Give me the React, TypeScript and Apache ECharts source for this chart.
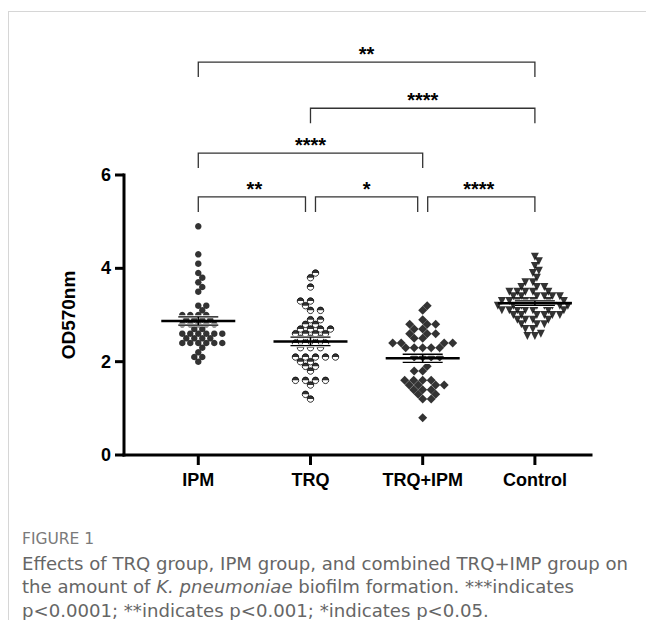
import React, { useEffect, useRef } from 'react';
import * as echarts from 'echarts';

const categories = ['IPM', 'TRQ', 'TRQ+IPM', 'Control'];

const ipmValues = [
  4.9, 4.3, 4.1, 3.9, 3.8, 3.7, 3.6, 3.5, 3.2, 3.2, 3.1,
  3.0, 3.0, 3.0, 3.0, 2.9, 2.9, 2.9, 2.9, 2.8, 2.8, 2.8, 2.8, 2.8,
  2.7, 2.7, 2.6, 2.6, 2.6, 2.6, 2.6, 2.6, 2.5, 2.5, 2.5, 2.5,
  2.4, 2.4, 2.4, 2.4, 2.4, 2.4, 2.3, 2.2, 2.1, 2.1, 2.0,
];

const trqValues = [
  3.9, 3.8, 3.6, 3.3, 3.3, 3.2, 3.1, 3.1, 2.9, 2.9, 2.8, 2.8,
  2.7, 2.7, 2.7, 2.7, 2.6, 2.6, 2.6, 2.6, 2.5, 2.5, 2.5,
  2.4, 2.4, 2.4, 2.4, 2.3, 2.3, 2.3, 2.1, 2.1, 2.1, 2.1, 2.1,
  2.0, 2.0, 1.9, 1.9, 1.8, 1.6, 1.6, 1.6, 1.6, 1.5, 1.3, 1.2,
];

const comboValues = [
  3.2, 3.1, 2.9, 2.8, 2.8, 2.8, 2.7, 2.7, 2.6, 2.6, 2.6, 2.5, 2.5,
  2.4, 2.4, 2.4, 2.4, 2.3, 2.3, 2.3, 2.3, 2.3, 2.1, 2.1, 2.1, 2.1,
  1.9, 1.8, 1.8, 1.6, 1.6, 1.6, 1.6, 1.5, 1.5, 1.5, 1.5,
  1.4, 1.4, 1.4, 1.3, 1.3, 1.2, 1.2, 0.8,
];

const controlValues = [
  4.25, 4.15, 4.05, 3.95, 3.9, 3.8, 3.7, 3.7, 3.6, 3.6, 3.6,
  3.5, 3.5, 3.5, 3.5, 3.5, 3.4, 3.4, 3.4, 3.4, 3.4, 3.4,
  3.3, 3.3, 3.3, 3.3, 3.3, 3.3, 3.3, 3.2, 3.2, 3.2, 3.2, 3.2, 3.2, 3.2, 3.2,
  3.1, 3.1, 3.1, 3.1, 3.1, 3.1, 3.1, 3.0, 3.0, 3.0, 3.0, 3.0, 3.0,
  2.9, 2.9, 2.9, 2.9, 2.8, 2.8, 2.8, 2.7, 2.7, 2.6, 2.55, 2.55,
];

const yTicks = [0, 2, 4, 6];
const xTicks = [1, 2, 3, 4];

const bracketPairs = [[1, 2], [2, 3], [3, 4], [1, 3], [2, 4], [1, 4]];
const bracketLevels = [5.53, 5.53, 5.53, 6.47, 7.43, 8.42];
const bracketLabels = ['**', '*', '****', '****', '****', '**'];

const captionTitle = 'FIGURE 1';
const captionLines = [
  '{n|Effects of TRQ group, IPM group, and combined TRQ+IMP group on}',
  '{n|the amount of }{i|K. pneumoniae}{n| biofilm formation. ***indicates}',
  '{n|p<0.0001; **indicates p<0.001; *indicates p<0.05.}',
];

// layout
const GRID = { left: 124, top: 175, width: 467, height: 280 };
const X_MIN = 0.338;
const X_MAX = 4.5;
const Y_MIN = 0;
const Y_MAX = 6;
const FONT = '"Liberation Sans", Arial, sans-serif';
const CAP_FONT = '"DejaVu Sans", "Open Sans", sans-serif';
const CAP_SIZE = 18.1;

function swarm(values: number[], d: number): number[] {
  const pxX = GRID.width / (X_MAX - X_MIN);
  const pxY = GRID.height / (Y_MAX - Y_MIN);
  const rowGap = 0.1 * pxY;
  const order = values.map((_, i) => i).sort((a, b) => values[a] - values[b]);
  const placed: { x: number; y: number }[] = [];
  const out: number[] = new Array(values.length).fill(0);
  const need = (dy: number) => {
    const a = Math.abs(dy);
    if (a >= 2 * rowGap - 0.01) return 0;
    if (a < rowGap * 0.5) return d;
    return d * (1 - a / (2 * rowGap));
  };
  for (const i of order) {
    const y = values[i] * pxY;
    let chosen = 0;
    const leftFirst = placed.length % 2 === 1;
    for (let step = 0; step < 2000; step++) {
      const s = step * 0.5;
      const cands = step === 0 ? [0] : leftFirst ? [-s, s] : [s, -s];
      let found: number | null = null;
      for (const c of cands) {
        let ok = true;
        for (const p of placed) {
          if (Math.abs(p.x - c) < need(p.y - y) - 1e-6) { ok = false; break; }
        }
        if (ok) { found = c; break; }
      }
      if (found !== null) { chosen = found; break; }
    }
    placed.push({ x: chosen, y });
    out[i] = chosen / pxX;
  }
  return out;
}

function stats(values: number[]) {
  const n = values.length;
  const mean = values.reduce((a, b) => a + b, 0) / n;
  const sd = Math.sqrt(values.reduce((a, b) => a + (b - mean) ** 2, 0) / (n - 1));
  return { mean, sem: sd / Math.sqrt(n) };
}

function points(values: number[], groupIndex: number, d: number) {
  const offs = swarm(values, d);
  return values.map((v, i) => [groupIndex + offs[i], v]);
}

export default function App() {
  const ref = useRef<HTMLDivElement>(null);

  useEffect(() => {
    if (!ref.current) return;
    const chart = echarts.init(ref.current, undefined, { renderer: 'svg' });

    const groups = [ipmValues, trqValues, comboValues, controlValues];
    const summary = groups.map((g, i) => {
      const s = stats(g);
      return [i + 1, s.mean, s.sem];
    });
    const trqPoints = points(trqValues, 2, 10);

    const bracketData = bracketPairs.map((p, i) => [p[0], p[1], bracketLevels[i]]);
    const insets = bracketPairs.map((p, i) => {
      let l = false;
      let r = false;
      bracketPairs.forEach((q, j) => {
        if (j === i || bracketLevels[j] !== bracketLevels[i]) return;
        if (q[1] === p[0]) l = true;
        if (q[0] === p[1]) r = true;
      });
      return [l ? 5 : 0, r ? 5 : 0];
    });

    const seg = (x1: number, y1: number, x2: number, y2: number, w: number, col: string, cap = 'butt') => ({
      type: 'line',
      shape: { x1, y1, x2, y2 },
      style: { stroke: col, lineWidth: w, lineCap: cap },
    });

    const option: any = {
      animation: false,
      grid: { ...GRID, containLabel: false },
      xAxis: {
        type: 'value',
        min: X_MIN,
        max: X_MAX,
        splitLine: { show: false },
        axisLine: { show: false },
        axisTick: { show: false },
        axisLabel: {
          customValues: xTicks,
          formatter: (v: number) => categories[Math.round(v) - 1] ?? '',
          color: '#000',
          fontFamily: FONT,
          fontWeight: 'bold',
          fontSize: 18,
          margin: 16,
        },
      },
      yAxis: {
        type: 'value',
        min: Y_MIN,
        max: Y_MAX,
        interval: 2,
        name: 'OD570nm',
        nameLocation: 'middle',
        nameGap: 46,
        nameTextStyle: { color: '#000', fontFamily: FONT, fontWeight: 'bold', fontSize: 19 },
        splitLine: { show: false },
        axisLine: { show: false },
        axisTick: { show: false },
        axisLabel: {
          customValues: yTicks,
          color: '#000',
          fontFamily: FONT,
          fontWeight: 'bold',
          fontSize: 18,
          margin: 13,
        },
      },
      series: [
        {
          type: 'scatter',
          data: points(ipmValues, 1, 8),
          symbol: 'circle',
          symbolSize: 6.5,
          itemStyle: { color: '#000' },
          silent: true,
        },
        {
          type: 'scatter',
          data: trqPoints,
          symbol: 'circle',
          symbolSize: 6.5,
          itemStyle: { color: '#fff', borderColor: '#000', borderWidth: 1 },
          silent: true,
        },
        {
          type: 'scatter',
          data: trqPoints,
          symbol: 'path://M0,10 A10,10 0 0 1 20,10 Z',
          symbolSize: [6.5, 3.25],
          symbolOffset: [0, -1.625],
          itemStyle: { color: '#000' },
          silent: true,
        },
        {
          type: 'scatter',
          data: points(comboValues, 3, 8.3),
          symbol: 'diamond',
          symbolSize: 9,
          itemStyle: { color: '#000' },
          silent: true,
        },
        {
          type: 'scatter',
          data: points(controlValues, 4, 7.5),
          symbol: 'triangle',
          symbolRotate: 180,
          symbolSize: 8,
          itemStyle: { color: '#000' },
          silent: true,
        },
        {
          // axes (line + ticks) drawn through the cartesian scales
          type: 'custom',
          data: [[X_MIN, Y_MIN]],
          clip: false,
          silent: true,
          z: 6,
          renderItem: (params: any, api: any) => {
            const o = api.coord([X_MIN, Y_MIN]);
            const top = api.coord([X_MIN, Y_MAX]);
            const right = api.coord([X_MAX, Y_MIN]);
            const children: any[] = [
              seg(o[0], o[1], o[0], top[1], 3, '#000', 'square'),
              seg(o[0], o[1], right[0], o[1], 3, '#000', 'square'),
            ];
            yTicks.forEach((t) => {
              const p = api.coord([X_MIN, t]);
              children.push(seg(o[0] - 9, p[1], o[0], p[1], 3, '#000'));
            });
            xTicks.forEach((t) => {
              const p = api.coord([t, Y_MIN]);
              children.push(seg(p[0], o[1], p[0], o[1] + 10, 3, '#000'));
            });
            return { type: 'group', children };
          },
        },
        {
          type: 'custom',
          data: summary,
          clip: false,
          silent: true,
          z: 5,
          renderItem: (params: any, api: any) => {
            const x = api.value(0);
            const m = api.value(1);
            const s = api.value(2);
            const c = api.coord([x, m]);
            const hi = api.coord([x, m + s]);
            const lo = api.coord([x, m - s]);
            return {
              type: 'group',
              children: [
                seg(c[0] - 20, hi[1], c[0] + 20, hi[1], 3, '#fff'),
                seg(c[0] - 20, lo[1], c[0] + 20, lo[1], 3, '#fff'),
                seg(c[0] - 37, c[1], c[0] + 37, c[1], 2.5, '#000'),
                seg(c[0], hi[1], c[0], lo[1], 1.5, '#000'),
                seg(c[0] - 20, hi[1], c[0] + 20, hi[1], 1.3, '#000'),
                seg(c[0] - 20, lo[1], c[0] + 20, lo[1], 1.3, '#000'),
              ],
            };
          },
        },
        {
          type: 'custom',
          data: bracketData,
          clip: false,
          silent: true,
          renderItem: (params: any, api: any) => {
            const i = params.dataIndex;
            const a = api.coord([api.value(0), api.value(2)]);
            const b = api.coord([api.value(1), api.value(2)]);
            const x1 = a[0] + insets[i][0];
            const x2 = b[0] - insets[i][1];
            const y = a[1];
            return {
              type: 'group',
              children: [
                {
                  type: 'polyline',
                  shape: { points: [[x1, y + 15], [x1, y], [x2, y], [x2, y + 15]] },
                  style: { stroke: '#333', lineWidth: 1.3, fill: 'none' },
                },
                {
                  type: 'text',
                  x: (a[0] + b[0]) / 2,
                  y: y - 8,
                  style: {
                    text: bracketLabels[i],
                    align: 'center',
                    verticalAlign: 'middle',
                    font: `bold 20px ${FONT}`,
                    fill: '#000',
                  },
                },
              ],
            };
          },
        },
      ],
      graphic: [
        {
          type: 'line',
          shape: { x1: 8, y1: 11.5, x2: 646, y2: 11.5 },
          style: { stroke: '#d6d6d6', lineWidth: 1 },
          silent: true,
        },
        {
          type: 'line',
          shape: { x1: 8.5, y1: 11, x2: 8.5, y2: 620 },
          style: { stroke: '#d6d6d6', lineWidth: 1 },
          silent: true,
        },
        {
          type: 'text',
          x: 22,
          y: 539,
          silent: true,
          style: {
            text: captionTitle,
            font: `15.5px ${CAP_FONT}`,
            lineHeight: 18,
            fill: '#7a7a7a',
            verticalAlign: 'middle',
          },
        },
        ...captionLines.map((t, k) => ({
          type: 'text',
          x: 22,
          y: 563 + k * 23.6,
          silent: true,
          style: {
            text: t,
            font: `${CAP_SIZE}px ${CAP_FONT}`,
            fill: '#666',
            lineHeight: 20,
            verticalAlign: 'middle',
            rich: {
              n: { fontFamily: CAP_FONT, fontSize: CAP_SIZE, color: '#666', lineHeight: 20 },
              i: { fontFamily: CAP_FONT, fontSize: CAP_SIZE, color: '#666', fontStyle: 'italic', lineHeight: 20 },
            },
          },
        })),
      ],
    };

    chart.setOption(option);
    return () => chart.dispose();
  }, []);

  return (
    <div
      ref={ref}
      style={{ position: 'absolute', left: 0, top: 0, width: 646, height: 620, background: '#fff' }}
    />
  );
}
